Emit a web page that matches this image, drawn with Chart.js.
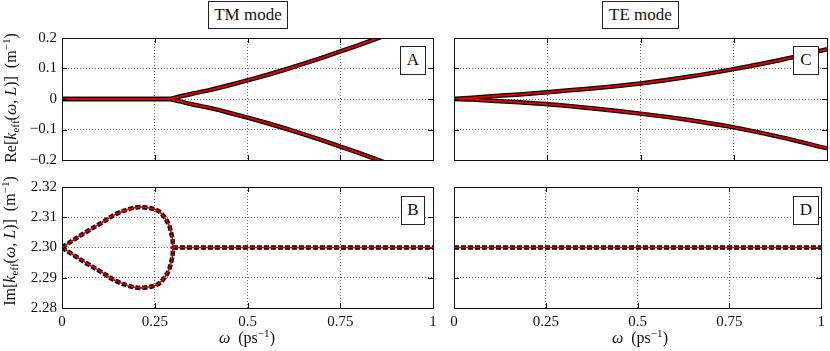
<!DOCTYPE html>
<html>
<head>
<meta charset="utf-8">
<script src="https://cdn.jsdelivr.net/npm/chart.js@4.4.1/dist/chart.umd.min.js"></script>
<style>
  body { margin: 0; background: #fff; }
  #wrap { position: relative; width: 830px; height: 351px; font-family: "Liberation Serif", serif; color: #111; }
  #wrap canvas { position: absolute; left: 0; top: 0; }
  .box { position: absolute; border: 1px solid #222; box-sizing: border-box; text-align: center; background: #fff; z-index: 5; font-size: 17px; line-height: 26px; }
  .ytitle { position: absolute; white-space: nowrap; transform: translate(-50%, -50%) rotate(-90deg); font-size: 16px; z-index: 5; }
  .xtitle { position: absolute; white-space: nowrap; transform: translateX(-50%); font-size: 16px; z-index: 5; }
  sub { font-size: 0.7em; vertical-align: -0.25em; line-height: 0; }
  sup { font-size: 0.7em; vertical-align: 0.5em; line-height: 0; }
</style>
</head>
<body>
<div id="wrap">
  <canvas id="panelA" width="830" height="351"></canvas>
  <canvas id="panelB" width="830" height="351"></canvas>
  <canvas id="panelC" width="830" height="351"></canvas>
  <canvas id="panelD" width="830" height="351"></canvas>

  <div class="box" style="left:208px; top:1px; width:80px; height:28px;">TM mode</div>
  <div class="box" style="left:602px; top:1px; width:77px; height:28px;">TE mode</div>
  <div class="box" style="left:400px; top:46px; width:26px; height:29px;">A</div>
  <div class="box" style="left:401px; top:196px; width:24px; height:29px;">B</div>
  <div class="box" style="left:793px; top:46px; width:26px; height:29px;">C</div>
  <div class="box" style="left:793px; top:196px; width:26px; height:29px;">D</div>

  <div class="ytitle" style="left:11px; top:98px;">Re[<i>k</i><sub>eff</sub>(<i>ω</i>, <i>L</i>)]&nbsp;&nbsp;(m<sup>−1</sup>)</div>
  <div class="ytitle" style="left:10px; top:241px;">Im[<i>k</i><sub>eff</sub>(<i>ω</i>, <i>L</i>)]&nbsp;&nbsp;(m<sup>−1</sup>)</div>
  <div class="xtitle" style="left:247px; top:329px;"><i>ω</i>&nbsp;&nbsp;(ps<sup>−1</sup>)</div>
  <div class="xtitle" style="left:640px; top:329px;"><i>ω</i>&nbsp;&nbsp;(ps<sup>−1</sup>)</div>
</div>

<script>
"use strict";

// tick positions and labels
const xTicks = [0, 0.25, 0.5, 0.75, 1];
const xTickLabels = ["0", "0.25", "0.5", "0.75", "1"];
const reTicks = [-0.2, -0.1, 0, 0.1, 0.2];
const reTickLabels = ["\u22120.2", "\u22120.1", "0", "0.1", "0.2"];
const imTicks = [2.28, 2.29, 2.30, 2.31, 2.32];
const imTickLabels = ["2.28", "2.29", "2.30", "2.31", "2.32"];

// A: TM mode, real part
const tmReOmega = [0, 0.29, 0.297, 0.31, 0.35, 0.4, 0.45, 0.5, 0.55, 0.6, 0.65, 0.7, 0.75, 0.8, 0.85, 0.9];
const tmReUpper = [0, 0, 0.002, 0.006, 0.017, 0.03, 0.045, 0.061, 0.078, 0.096, 0.115, 0.135, 0.156, 0.177, 0.199, 0.222];
const tmReLower = [0, 0, -0.002, -0.006, -0.017, -0.03, -0.045, -0.061, -0.078, -0.096, -0.115, -0.135, -0.156, -0.177, -0.199, -0.222];

// B: TM mode, imaginary part (loop, then flat)
const tmImOmega = [0, 0.03, 0.066, 0.103, 0.148, 0.193, 0.22, 0.256, 0.275, 0.288, 0.295, 0.2985, 0.299];
const tmImUpper = [2.30, 2.3024, 2.3052, 2.3079, 2.3112, 2.3131, 2.3133, 2.3123, 2.3102, 2.3075, 2.3045, 2.302, 2.300];
const tmImLower = [2.30, 2.2976, 2.2948, 2.2921, 2.2888, 2.2869, 2.2867, 2.2877, 2.2898, 2.2925, 2.2955, 2.298, 2.300];
const tmImFlatOmega = [0.299, 1];
const tmImFlat = [2.30, 2.30];

// C: TE mode, real part
const teReOmega = [0, 0.05, 0.1, 0.175, 0.25, 0.375, 0.5, 0.625, 0.75, 0.875, 1];
const teReUpper = [0, 0.004, 0.009, 0.015, 0.022, 0.035, 0.051, 0.072, 0.098, 0.128, 0.163];
const teReLower = [0, -0.002, -0.006, -0.011, -0.017, -0.031, -0.048, -0.068, -0.093, -0.125, -0.162];

// D: TE mode, imaginary part
const teImOmega = [0, 1];
const teIm = [2.30, 2.30];

const FONT = "Liberation Serif";
Chart.defaults.font.family = FONT;

function pair(xs, ys, dashed, smooth) {
    var pts = xs.map(function (x, i) { return { x: x, y: ys[i] }; });
    var curve = smooth === "loop"
        ? { tension: 0.35 }
        : { cubicInterpolationMode: "monotone", tension: 0.4 };
    return [
        Object.assign({
            data: pts, showLine: true, pointRadius: 0,
            borderColor: "#000", borderWidth: 4.5,
            borderDash: dashed ? [5, 2] : [], borderJoinStyle: "round",
            order: 2,
        }, curve),
        Object.assign({
            data: pts, showLine: true, pointRadius: 0,
            borderColor: "#e00000", borderWidth: dashed ? 1.6 : 2,
            borderJoinStyle: "round",
            order: 1,
        }, curve),
    ];
}

// frame and inward ticks, matplotlib style
const framePlugin = {
    id: "frame",
    afterDraw: function (chart) {
        var a = chart.chartArea, c = chart.ctx;
        var sx = chart.scales.x, sy = chart.scales.y;
        c.save();
        c.strokeStyle = "#111";
        c.lineWidth = 1;
        c.setLineDash([]);
        c.beginPath();
        xTicks.forEach(function (v) {
            var px = Math.round(sx.getPixelForValue(v)) + 0.5;
            c.moveTo(px, a.bottom); c.lineTo(px, a.bottom - 5);
            c.moveTo(px, a.top); c.lineTo(px, a.top + 5);
        });
        sy.ticks.forEach(function (t) {
            var py = Math.round(sy.getPixelForValue(t.value)) + 0.5;
            c.moveTo(a.left, py); c.lineTo(a.left + 5, py);
            c.moveTo(a.right, py); c.lineTo(a.right - 5, py);
        });
        c.stroke();
        c.strokeRect(Math.round(a.left) + 0.5, Math.round(a.top) + 0.5,
            Math.round(a.right - a.left), Math.round(a.bottom - a.top));
        c.restore();
    },
};

function panel(id, area, yTicks, yLabels, showX, showY, datasets) {
    var W = showY ? 62 : 0;
    var H = showX ? 30 : 0;
    return new Chart(document.getElementById(id).getContext("2d"), {
        type: "scatter",
        data: { datasets: datasets },
        plugins: [framePlugin],
        options: {
            responsive: false,
            animation: false,
            devicePixelRatio: 1,
            layout: {
                autoPadding: false,
                padding: {
                    left: area.left - W,
                    top: area.top,
                    right: 830 - area.right,
                    bottom: 351 - area.bottom - H,
                },
            },
            plugins: {
                legend: { display: false },
                tooltip: { enabled: false },
            },
            scales: {
                x: {
                    type: "linear", min: 0, max: 1,
                    afterBuildTicks: function (s) { s.ticks = xTicks.map(function (v) { return { value: v }; }); },
                    afterFit: function (s) { s.height = H; },
                    grid: { color: "#666", lineWidth: 1, drawTicks: false },
                    border: { display: false, dash: [1, 2] },
                    ticks: {
                        display: showX, padding: 5, color: "#111", autoSkip: false, maxRotation: 0,
                        font: { family: FONT, size: 15 },
                        callback: function (v, i) { return xTickLabels[i]; },
                    },
                },
                y: {
                    type: "linear", min: yTicks[0], max: yTicks[yTicks.length - 1],
                    afterBuildTicks: function (s) { s.ticks = yTicks.map(function (v) { return { value: v }; }); },
                    afterFit: function (s) { s.width = W; },
                    grid: { color: "#666", lineWidth: 1, drawTicks: false },
                    border: { display: false, dash: [1, 2] },
                    ticks: {
                        display: showY, padding: 5, color: "#111", autoSkip: false,
                        font: { family: FONT, size: 15 },
                        callback: function (v, i) { return yLabels[i]; },
                    },
                },
            },
        },
    });
}

panel("panelA", { left: 62, top: 38, right: 433, bottom: 160 }, reTicks, reTickLabels, false, true,
    pair(tmReOmega, tmReUpper, false).concat(pair(tmReOmega, tmReLower, false)));

panel("panelB", { left: 62, top: 187, right: 433, bottom: 308 }, imTicks, imTickLabels, true, true,
    pair(tmImOmega, tmImUpper, true, "loop").concat(pair(tmImOmega, tmImLower, true, "loop"), pair(tmImFlatOmega, tmImFlat, true)));

panel("panelC", { left: 454, top: 38, right: 827, bottom: 160 }, reTicks, reTickLabels, false, false,
    pair(teReOmega, teReUpper, false).concat(pair(teReOmega, teReLower, false)));

panel("panelD", { left: 454, top: 187, right: 827, bottom: 308 }, imTicks, imTickLabels, true, false,
    pair(teImOmega, teIm, true));
</script>
</body>
</html>
